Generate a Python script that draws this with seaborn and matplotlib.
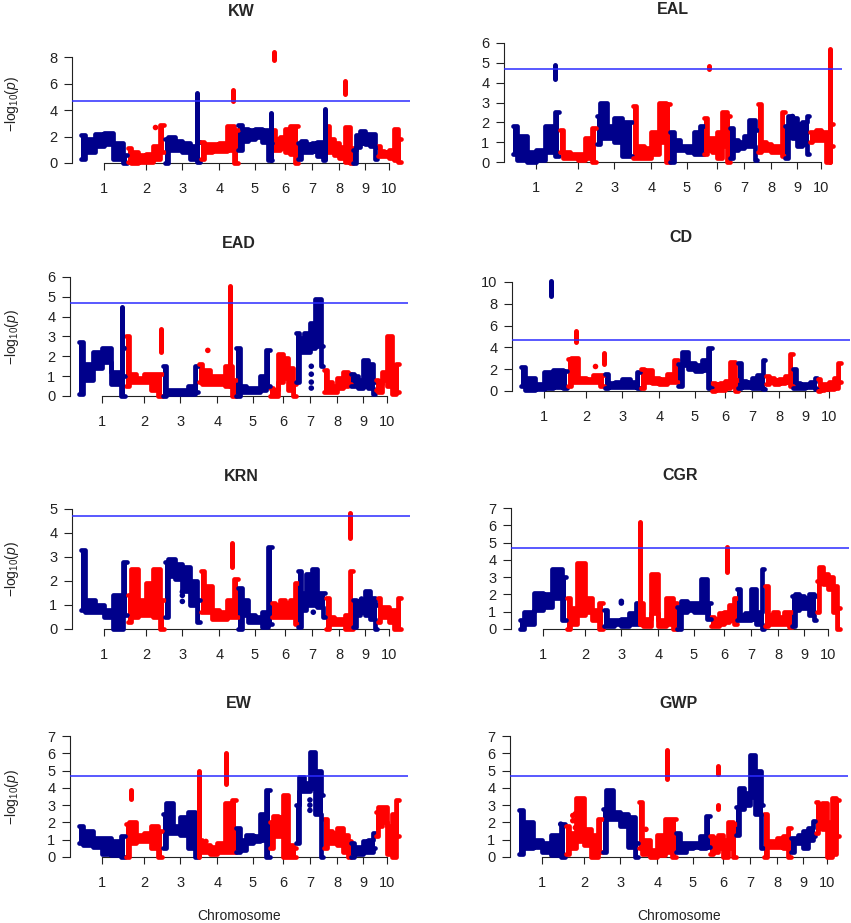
import numpy as np
import pandas as pd
import seaborn as sns
import matplotlib.pyplot as plt

# maize chromosome lengths (Mb) and where each chromosome is sampled (fraction of its length)
chrom_len = [301.35, 237.07, 232.14, 241.47, 217.87, 169.17, 176.76, 175.79, 156.75, 150.19]
sample_rel = [0.01, 0.2, 0.4, 0.6, 0.8, 0.99]
threshold = 4.7
traits = ["KW", "EAL", "EAD", "CD", "KRN", "CGR", "EW", "GWP"]

# -log10(p) band per chromosome: lower and upper edge at the sample points
KW_low = [[0.3, 0.8, 1.3, 1.4, 0.3, 0.0], [0.1, 0.0, 0.1, 0.1, 0.3, 0.8],
          [0.0, 1.0, 1.0, 0.8, 0.3, 0.1], [0.3, 0.8, 0.9, 0.9, 1.0, 0.0],
          [1.0, 1.7, 1.8, 2.0, 1.6, 0.2], [1.0, 1.0, 1.1, 0.8, 0.7, 0.0],
          [0.3, 0.8, 0.8, 0.9, 0.5, 0.2], [0.8, 0.8, 0.6, 0.4, 0.1, 0.0],
          [0.0, 1.2, 1.5, 1.4, 1.3, 0.3], [0.5, 0.5, 0.5, 0.4, 0.2, 0.1]]
KW_high = [[2.1, 1.8, 2.2, 2.3, 1.5, 0.6], [1.1, 0.8, 0.6, 0.7, 1.3, 2.9],
           [1.8, 2.0, 1.7, 1.5, 1.3, 1.6], [1.6, 1.4, 1.4, 1.5, 2.8, 2.5],
           [2.9, 2.6, 2.5, 2.6, 2.5, 1.5], [2.5, 1.8, 2.0, 2.6, 2.8, 2.8],
           [1.5, 1.7, 1.4, 1.5, 1.6, 1.0], [2.8, 1.8, 1.5, 1.2, 2.7, 1.1],
           [1.0, 2.1, 2.4, 2.2, 2.2, 1.2], [1.3, 0.9, 0.8, 1.0, 2.6, 1.8]]
KW_spikes = [(3, 0.90, 0.5, 5.3), (4, 0.88, 4.7, 5.5), (5, 0.98, 0.2, 3.8),
             (6, 0.10, 7.8, 8.4), (7, 0.98, 0.3, 4.1), (8, 0.70, 5.2, 6.2)]
KW_dots = [(2, 0.75, 2.7)]

EAL_low = [[0.4, 0.1, 0.0, 0.1, 0.5, 0.3], [0.5, 0.2, 0.2, 0.1, 0.2, 0.0],
           [0.9, 1.2, 1.2, 1.0, 0.3, 0.3], [0.2, 0.2, 0.2, 0.4, 1.0, 0.0],
           [0.0, 0.6, 0.6, 0.5, 0.4, 0.4], [0.4, 0.6, 0.5, 0.2, 0.8, 0.0],
           [0.2, 0.6, 0.7, 0.8, 0.8, 0.1], [0.5, 0.6, 0.6, 0.5, 0.5, 0.3],
           [0.2, 1.3, 1.2, 0.8, 0.9, 0.4], [1.0, 1.1, 1.1, 1.1, 0.0, 0.8]]
EAL_high = [[1.8, 1.3, 0.5, 0.6, 1.8, 2.5], [1.6, 0.5, 0.4, 0.4, 1.2, 1.7],
            [2.3, 3.0, 1.8, 2.2, 2.0, 2.0], [2.8, 0.8, 0.7, 1.5, 3.0, 2.9],
            [1.5, 1.1, 0.8, 0.8, 1.5, 1.8], [2.2, 1.2, 1.2, 1.5, 2.5, 2.3],
            [1.7, 1.1, 1.0, 1.3, 2.1, 1.6], [2.9, 1.0, 0.9, 0.8, 0.8, 2.5],
            [1.8, 2.3, 2.2, 1.9, 2.0, 2.3], [1.5, 1.5, 1.6, 1.5, 1.5, 1.9]]
EAL_spikes = [(1, 0.90, 4.2, 4.9), (6, 0.20, 4.7, 4.85), (10, 0.88, 0.0, 5.7)]
EAL_dots = [(9, 0.28, 2.3)]

EAD_low = [[0.1, 0.8, 1.4, 1.7, 0.6, 0.0], [0.5, 0.7, 0.7, 0.7, 0.3, 0.0],
           [0.0, 0.1, 0.1, 0.1, 0.1, 0.2], [0.7, 0.6, 0.6, 0.6, 0.5, 0.0],
           [0.0, 0.2, 0.2, 0.2, 0.3, 0.5], [0.0, 0.0, 0.7, 0.9, 0.3, 0.0],
           [0.7, 2.2, 2.2, 2.4, 2.5, 1.5], [0.2, 0.2, 0.2, 0.4, 0.5, 0.6],
           [0.5, 0.5, 0.4, 0.5, 0.4, 0.1], [0.3, 0.2, 0.8, 0.5, 0.1, 0.2]]
EAD_high = [[2.7, 1.6, 2.2, 2.4, 1.2, 1.0], [3.0, 1.1, 0.9, 1.1, 1.1, 1.1],
            [1.5, 0.3, 0.3, 0.3, 0.5, 1.5], [1.6, 1.3, 1.0, 1.0, 1.5, 0.8],
            [2.4, 0.5, 0.4, 0.4, 1.0, 2.3], [0.4, 0.3, 2.1, 1.9, 1.4, 0.6],
            [3.2, 2.9, 3.2, 3.7, 4.9, 2.5], [1.3, 0.7, 0.5, 0.9, 1.2, 1.1],
            [1.1, 1.0, 0.8, 1.8, 1.6, 0.7], [0.8, 0.6, 1.2, 3.0, 1.2, 1.6]]
EAD_spikes = [(1, 0.93, 0.5, 4.5), (2, 0.97, 2.2, 3.4), (4, 0.83, 0.5, 5.55)]
EAD_dots = [(7, 0.55, 0.4), (7, 0.55, 0.7), (7, 0.55, 1.1), (7, 0.55, 1.5),
            (4, 0.25, 2.3), (1, 0.97, 2.4)]

CD_low = [[0.5, 0.1, 0.2, 0.3, 0.4, 0.3], [0.5, 0.8, 0.8, 0.8, 0.8, 0.5],
          [0.3, 0.4, 0.4, 0.4, 0.4, 0.3], [0.3, 0.8, 0.7, 0.6, 0.8, 0.8],
          [0.5, 2.4, 2.0, 1.8, 1.9, 0.3], [0.0, 0.1, 0.1, 0.3, 0.5, 0.0],
          [0.3, 0.4, 0.4, 0.3, 0.3, 0.2], [0.6, 0.8, 0.6, 0.7, 0.8, 0.5],
          [0.3, 0.3, 0.3, 0.4, 0.4, 0.2], [0.0, 0.1, 0.2, 0.2, 0.3, 0.8]]
CD_high = [[2.2, 1.2, 0.6, 1.7, 1.9, 1.8], [2.9, 3.0, 1.2, 1.1, 1.5, 1.5],
           [1.6, 0.7, 0.8, 1.1, 0.8, 1.7], [2.0, 1.9, 1.2, 1.1, 1.6, 2.8],
           [2.5, 3.6, 2.6, 2.4, 2.8, 3.9], [0.7, 0.6, 0.7, 0.9, 2.7, 1.0],
           [2.6, 0.9, 0.8, 1.2, 1.5, 2.8], [1.4, 1.2, 1.0, 1.1, 1.4, 3.4],
           [2.0, 0.7, 0.6, 0.6, 0.8, 1.2], [1.1, 0.6, 0.6, 0.8, 1.2, 2.6]]
CD_spikes = [(1, 0.64, 8.7, 10.1), (2, 0.23, 4.5, 5.5), (2, 0.98, 2.5, 3.5)]
CD_dots = [(2, 0.75, 2.3)]

KRN_low = [[0.8, 0.7, 0.7, 0.5, 0.0, 0.6], [0.3, 0.5, 0.6, 0.6, 0.5, 0.0],
           [0.5, 2.2, 2.1, 1.6, 1.0, 0.3], [0.7, 0.7, 0.4, 0.4, 0.5, 0.5],
           [0.0, 0.6, 0.3, 0.3, 0.1, 0.2], [0.5, 0.5, 0.5, 0.5, 0.5, 0.2],
           [0.1, 0.8, 1.0, 1.0, 0.9, 0.5], [0.0, 0.2, 0.2, 0.2, 0.0, 0.0],
           [0.1, 0.6, 0.7, 0.6, 0.4, 0.0], [0.3, 0.5, 0.5, 0.3, 0.0, 0.0]]
KRN_high = [[3.3, 1.2, 1.0, 0.8, 1.4, 2.8], [1.4, 2.5, 1.2, 1.9, 2.5, 1.2],
            [2.8, 2.9, 2.7, 2.6, 2.0, 1.2], [2.4, 1.8, 0.8, 0.7, 1.2, 2.1],
            [1.7, 1.2, 0.6, 0.5, 0.7, 3.4], [1.1, 1.0, 1.2, 1.1, 1.2, 1.9],
            [2.4, 1.5, 2.3, 2.5, 1.5, 1.5], [1.3, 0.5, 0.4, 0.4, 0.6, 2.4],
            [1.2, 1.1, 1.2, 1.6, 1.3, 1.0], [1.3, 0.9, 0.9, 0.8, 0.8, 1.3]]
KRN_spikes = [(4, 0.85, 2.6, 3.6), (8, 0.90, 3.8, 4.85)]
KRN_dots = [(3, 0.50, 1.15), (3, 0.50, 1.4), (3, 0.50, 1.55), (7, 0.55, 0.7), (9, 0.35, 1.25)]

CGR_low = [[0.0, 0.3, 1.1, 1.3, 1.8, 0.5], [0.0, 0.3, 0.8, 1.0, 0.5, 0.0],
           [0.2, 0.2, 0.3, 0.2, 0.3, 0.3], [0.3, 0.2, 0.9, 0.2, 0.3, 0.0],
           [0.0, 1.0, 1.1, 1.0, 1.0, 0.6], [0.2, 0.2, 0.3, 0.4, 0.5, 0.3],
           [0.5, 0.5, 0.5, 0.6, 0.3, 0.0], [0.2, 0.3, 0.3, 0.3, 0.3, 0.1],
           [0.2, 1.1, 1.2, 1.2, 0.8, 0.5], [1.0, 2.7, 2.6, 2.3, 1.0, 0.0]]
CGR_high = [[0.5, 1.0, 2.1, 2.0, 3.5, 3.0], [1.8, 1.2, 3.8, 1.8, 1.1, 1.5],
            [1.1, 0.5, 0.5, 0.6, 0.9, 1.5], [1.5, 0.6, 3.2, 0.5, 1.8, 1.5],
            [1.3, 1.6, 1.5, 1.5, 2.9, 1.5], [0.7, 0.6, 0.9, 1.0, 1.4, 1.8],
            [2.3, 0.8, 0.9, 2.3, 1.0, 3.5], [2.5, 0.8, 1.0, 0.7, 1.0, 1.0],
            [1.9, 2.0, 1.9, 1.8, 2.0, 1.9], [2.8, 3.6, 3.2, 3.0, 2.5, 1.2]]
CGR_spikes = [(4, 0.02, 0.3, 6.2), (6, 0.60, 3.3, 4.75)]
CGR_dots = [(3, 0.50, 1.5), (3, 0.50, 1.6)]

EW_low = [[0.8, 0.7, 0.6, 0.2, 0.1, 0.0], [0.0, 0.8, 0.9, 0.9, 0.5, 0.0],
          [0.5, 1.4, 1.4, 1.3, 0.5, 0.0], [0.3, 0.3, 0.2, 0.3, 0.3, 0.3],
          [0.3, 0.4, 0.8, 0.9, 1.0, 0.0], [0.5, 1.2, 1.2, 0.0, 0.0, 0.0],
          [0.8, 3.8, 3.8, 4.0, 2.5, 0.0], [0.5, 0.8, 0.8, 0.7, 0.3, 0.0],
          [0.0, 0.2, 0.2, 0.3, 0.3, 0.5], [1.2, 1.8, 2.0, 0.2, 0.0, 1.2]]
EW_high = [[1.8, 1.5, 1.1, 1.1, 0.9, 1.2], [1.9, 2.0, 1.3, 1.4, 1.8, 1.5],
           [2.5, 3.1, 1.8, 2.3, 2.6, 1.0], [1.0, 0.7, 0.6, 0.8, 3.1, 3.3],
           [1.7, 1.0, 1.3, 1.2, 2.5, 3.9], [2.0, 2.4, 2.3, 3.6, 0.7, 0.5],
           [3.0, 4.6, 4.3, 6.1, 5.0, 3.6], [2.2, 1.5, 1.4, 1.7, 1.3, 0.9],
           [0.8, 0.6, 0.6, 0.9, 1.0, 1.4], [2.6, 2.9, 2.9, 1.8, 2.5, 3.3]]
EW_spikes = [(2, 0.14, 3.35, 3.85), (4, 0.01, 0.0, 5.0), (4, 0.74, 4.2, 6.0)]
EW_dots = [(7, 0.50, 2.7), (7, 0.50, 3.0), (7, 0.50, 3.3), (4, 0.20, 0.9)]

GWP_low = [[0.2, 0.5, 0.6, 0.3, 0.1, 0.0], [0.2, 0.5, 0.9, 0.7, 0.0, 0.3],
           [0.3, 2.2, 2.2, 1.8, 0.6, 0.0], [0.5, 0.2, 0.0, 0.1, 0.3, 0.0],
           [0.3, 0.3, 0.5, 0.6, 0.5, 0.6], [0.2, 0.3, 0.5, 0.0, 0.5, 0.0],
           [1.3, 2.8, 3.0, 3.5, 2.5, 0.5], [0.0, 0.6, 0.6, 0.6, 0.5, 0.0],
           [0.3, 0.8, 0.8, 0.5, 1.0, 1.2], [1.4, 1.8, 1.6, 0.0, 0.2, 1.2]]
GWP_high = [[2.7, 2.0, 1.0, 0.8, 1.3, 1.9], [1.8, 1.4, 3.4, 1.6, 1.3, 2.2],
            [2.8, 3.9, 2.6, 2.5, 2.3, 0.8], [3.2, 1.0, 0.4, 1.3, 2.2, 2.2],
            [1.4, 0.8, 0.8, 0.8, 1.2, 2.4], [1.2, 1.1, 1.3, 1.0, 2.0, 1.9],
            [2.9, 4.0, 3.7, 5.9, 5.0, 3.0], [2.5, 0.9, 0.9, 1.1, 1.2, 1.7],
            [1.1, 1.1, 1.3, 1.5, 1.7, 2.1], [3.2, 2.6, 3.1, 2.0, 3.4, 3.3]]
GWP_spikes = [(4, 0.77, 4.5, 6.2), (6, 0.30, 4.8, 5.25), (6, 0.30, 2.8, 3.0)]
GWP_dots = [(2, 0.20, 2.1), (2, 0.20, 2.4), (2, 0.27, 1.7), (2, 0.27, 2.1),
            (2, 0.27, 2.5), (1, 0.90, 1.9), (4, 0.20, 1.6)]

panel_data = {
    "KW": (KW_low, KW_high, KW_spikes, KW_dots),
    "EAL": (EAL_low, EAL_high, EAL_spikes, EAL_dots),
    "EAD": (EAD_low, EAD_high, EAD_spikes, EAD_dots),
    "CD": (CD_low, CD_high, CD_spikes, CD_dots),
    "KRN": (KRN_low, KRN_high, KRN_spikes, KRN_dots),
    "CGR": (CGR_low, CGR_high, CGR_spikes, CGR_dots),
    "EW": (EW_low, EW_high, EW_spikes, EW_dots),
    "GWP": (GWP_low, GWP_high, GWP_spikes, GWP_dots),
}
ytop = {"KW": 9, "EAL": 6, "EAD": 6, "CD": 11, "KRN": 5, "CGR": 7, "EW": 7, "GWP": 7}
ystep = {"KW": 2, "EAL": 1, "EAD": 1, "CD": 2, "KRN": 1, "CGR": 1, "EW": 1, "GWP": 1}

# panel plot regions in pixels: left, top, width, height
layout = {
    "KW": (72, 44, 338, 119), "EAL": (504, 43, 338, 119),
    "EAD": (70, 277, 338, 119), "CD": (512, 271, 338, 120),
    "KRN": (72, 509, 338, 120), "CGR": (511, 508, 338, 121),
    "EW": (70, 736, 338, 121), "GWP": (510, 736, 338, 121),
}

sns.set_style("ticks")
plt.rcParams["font.family"] = ["Liberation Sans", "DejaVu Sans"]
plt.rcParams["mathtext.fontset"] = "custom"
plt.rcParams["mathtext.rm"] = "Liberation Sans"
plt.rcParams["mathtext.it"] = "Liberation Sans:italic"

navy = "#00008B"
red = "#FF0000"
W, H = 851, 923
starts = np.concatenate([[0], np.cumsum(chrom_len)[:-1]])
centers = starts + np.array(chrom_len) / 2
pal = {str(i + 1): (navy if i % 2 == 0 else red) for i in range(10)}

fig = plt.figure(figsize=(W / 100, H / 100), dpi=100)

for k, trait in enumerate(traits):
    low, high, spikes, dots = panel_data[trait]
    l, t, w, h = layout[trait]
    ax = fig.add_axes([l / W, 1 - (t + h) / H, w / W, h / H])

    rows = []
    for c in range(10):
        for j, r in enumerate(sample_rel):
            rows.append({"chrom": str(c + 1), "pos": starts[c] + r * chrom_len[c],
                         "low": low[c][j], "high": high[c][j]})
    df = pd.DataFrame(rows)

    for c, sub in df.groupby("chrom", sort=False):
        ax.fill_between(sub["pos"], sub["low"], sub["high"], step="mid",
                        color=pal[c], lw=0, zorder=2)
    for col in ["high", "low"]:
        sns.lineplot(data=df, x="pos", y=col, hue="chrom", palette=pal, estimator=None,
                     lw=3.4, legend=False, ax=ax, drawstyle="steps-mid",
                     solid_capstyle="round", solid_joinstyle="round",
                     clip_on=False, zorder=3)

    sp = pd.DataFrame(spikes, columns=["chrom", "rel", "lo", "hi"])
    sp["pos"] = [starts[c - 1] + r * chrom_len[c - 1] for c, r in zip(sp["chrom"], sp["rel"])]
    ax.vlines(sp["pos"], sp["lo"], sp["hi"], colors=[pal[str(c)] for c in sp["chrom"]],
              lw=3.6, capstyle="round", zorder=3, clip_on=False)

    dt = pd.DataFrame(dots, columns=["chrom", "rel", "val"])
    dt["pos"] = [starts[c - 1] + r * chrom_len[c - 1] for c, r in zip(dt["chrom"], dt["rel"])]
    dt["chrom"] = dt["chrom"].astype(str)
    sns.scatterplot(data=dt, x="pos", y="val", hue="chrom", palette=pal, s=16,
                    linewidth=0, legend=False, ax=ax, zorder=3)

    ax.axhline(threshold, color="#2b2bff", lw=1.1, zorder=4)

    ax.set_xlim(-55, 2118)
    ax.set_ylim(0, ytop[trait])
    tmax = ytop[trait] if ytop[trait] % ystep[trait] == 0 else ytop[trait] - 1
    ax.set_yticks(np.arange(0, tmax + 0.1, ystep[trait]))
    ax.set_xticks(centers)
    ax.set_xticklabels([str(i + 1) for i in range(10)])
    ax.set_xlabel("")
    ax.set_ylabel("")

    for s in ["top", "right"]:
        ax.spines[s].set_visible(False)
    for s in ["left", "bottom"]:
        ax.spines[s].set_color("#222222")
        ax.spines[s].set_linewidth(0.8)
    ax.spines["left"].set_bounds(0, tmax)
    ax.spines["bottom"].set_bounds(centers[0], centers[-1])
    ax.tick_params(axis="x", length=5, width=0.8, color="#222222", pad=9,
                   labelsize=10.5, labelcolor="#222222")
    ax.tick_params(axis="y", length=5.5, width=0.8, color="#222222", pad=5,
                   labelsize=10.5, labelcolor="#222222")

    fig.text((l + w / 2) / W, 1 - (t - 33) / H, trait, ha="center", va="center",
             fontsize=11.5, fontweight="bold")
    if k % 2 == 0:
        fig.text(12 / W, 1 - (t + h / 2) / H, r"$-\mathrm{log}_{10}(\mathit{p})$",
                 rotation=90, ha="center", va="center", fontsize=10, color="#222222")
    if k >= 6:
        fig.text((l + w / 2) / W, 1 - 916 / H, "Chromosome", ha="center", va="center",
                 fontsize=10, color="#222222")

fig.savefig("out.png", dpi=100)
